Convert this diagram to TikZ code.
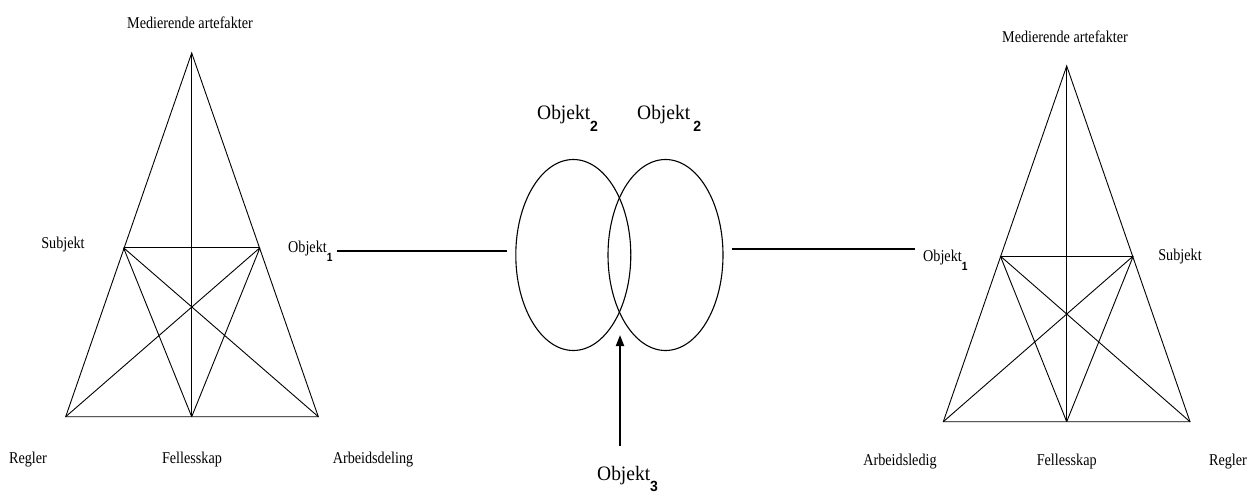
\documentclass[tikz,border=0pt]{standalone}
\usepackage{fontspec}
\setmainfont{Liberation Serif}
\setsansfont{Liberation Sans}
\usetikzlibrary{arrows.meta,shapes.geometric}

% lowered bold index digit, as in Objekt_1
\newcommand{\idx}[1]{\raisebox{-0.55em}{\scalebox{0.72}{\sffamily\bfseries #1}}}

\begin{document}
\begin{tikzpicture}[
  x=1pt, y=-1pt,
  >={Triangle[length=11pt,width=8pt]},
  font=\fontsize{16.5pt}{19pt}\selectfont,
  edge/.style ={draw=black, line width=0.9pt},
  link/.style ={draw=black, line width=1.9pt},
  push/.style ={->, draw=black, line width=2pt},
  ring/.style ={ellipse, draw=black, line width=1.1pt, minimum width=115pt,
                minimum height=191pt, inner sep=0pt},
  lbl/.style  ={inner sep=0pt, xscale=0.86},
  big/.style  ={inner sep=0pt, xscale=0.95, font=\fontsize{20.5pt}{23pt}\selectfont},
]
\useasboundingbox (0,0) rectangle (1258,492);

% ---- left activity system ----------------------------------------------------
\coordinate (lA)  at (191.7,53);
\coordinate (lS)  at (123.5,247.7);
\coordinate (lO)  at (260,247.7);
\coordinate (lBL) at (65.7,416.7);
\coordinate (lBM) at (191.7,416.7);
\coordinate (lBR) at (318.3,416.7);

\draw[edge] (lBL) -- (lA) -- (lBR) -- cycle;
\draw[edge] (lA) -- (lBM);
\draw[edge] (lS) -- (lO);
\draw[edge] (lS) -- (lBM) (lS) -- (lBR) (lO) -- (lBM) (lO) -- (lBL);

\node[lbl] (lmed) at (190,23)  {Medierende artefakter};
\node[lbl] (lsub) at (63,245)  {Subjekt};
\node[lbl, anchor=base west] (o1a) at (288,252) {Objekt\idx{1}};
\node[lbl] (lreg) at (28,460)  {Regler};
\node[lbl] (lfel) at (192,460) {Fellesskap};
\node[lbl] (larb) at (373,460) {Arbeidsdeling};

% ---- shared object ---------------------------------------------------------
\node[ring] (ellL) at (573.3,255) {};
\node[ring] (ellR) at (665.5,255) {};

\node[big, anchor=base west] (o2a) at (537,120) {Objekt\idx{2}};
\node[big, anchor=base west] (o2b) at (637,120) {Objekt\,\idx{2}};
\node[big, anchor=base west] (o3)  at (597,480) {Objekt\idx{3}};

\coordinate (tip) at (620,335);
\draw[push, shorten <=20pt] (o3.north -| tip) -- (tip);

\draw[link, shorten <=4pt, shorten >=8pt] (o1a.east) -- (o1a.east -| ellL.west);

% ---- right activity system ---------------------------------------------------
\coordinate (rA)  at (1066.7,66);
\coordinate (rO)  at (1000.3,256);
\coordinate (rS)  at (1133.3,256);
\coordinate (rBL) at (943.3,421.7);
\coordinate (rBM) at (1066.7,421.7);
\coordinate (rBR) at (1190,421.7);

\draw[edge] (rBL) -- (rA) -- (rBR) -- cycle;
\draw[edge] (rA) -- (rBM);
\draw[edge] (rO) -- (rS);
\draw[edge] (rO) -- (rBM) (rO) -- (rBR) (rS) -- (rBM) (rS) -- (rBL);

\node[lbl] (rmed) at (1065,37)    {Medierende artefakter};
\node[lbl, anchor=base west] (o1b) at (923,261) {Objekt\idx{1}};
\node[lbl] (rsub) at (1180,257)   {Subjekt};
\node[lbl] (rarb) at (900,462)    {Arbeidsledig};
\node[lbl] (rfel) at (1066.7,462) {Fellesskap};
\node[lbl] (rreg) at (1228,462)   {Regler};

\draw[link, shorten <=8pt, shorten >=8pt] (ellR.east |- o1b.north west) -- (o1b.north west);

\end{tikzpicture}
\end{document}
